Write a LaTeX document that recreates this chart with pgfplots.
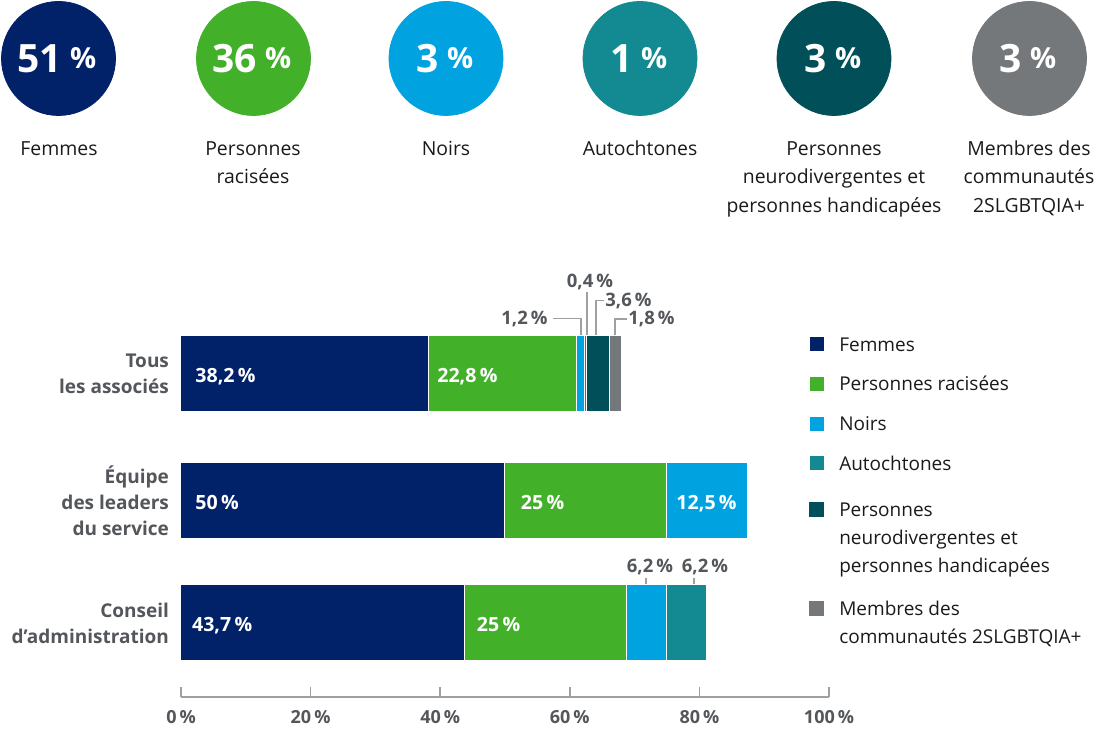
\documentclass[border=0pt]{standalone}
\usepackage{fontspec}
\setmainfont{Open Sans}
\usepackage{pgfplots}
\pgfplotsset{compat=1.18}

\definecolor{cNavy}{HTML}{012169}
\definecolor{cGreen}{HTML}{43B02A}
\definecolor{cBlue}{HTML}{00A3E0}
\definecolor{cTeal}{HTML}{138A92}
\definecolor{cDark}{HTML}{004F59}
\definecolor{cGray}{HTML}{75787B}
\definecolor{cText}{HTML}{53565A}
\definecolor{cLine}{HTML}{A0A0A0}
\definecolor{cBlack}{HTML}{1A1A1A}

\newcommand{\fs}[2]{\fontsize{#1}{#2}\selectfont}

\tikzset{
    lab/.style={align=center, anchor=north, inner sep=0pt, text=cBlack,
        font=\fs{9.7}{14.25}},
    inl/.style={anchor=base west, text=white, font=\bfseries\fs{9.8}{12}, inner sep=0pt},
    ann/.style={text=cText, font=\bfseries\fs{9.25}{12}, inner sep=0pt},
    lead/.style={cLine, line width=0.7pt},
}

\begin{document}
\begin{tikzpicture}
\path[use as bounding box] (0,0) rectangle (550pt,365.5pt);

% ---- top row: circles (coordinates in px, y downwards as negative)
\begin{axis}[
    name=bg, at={(0,0)}, anchor=south west,
    scale only axis, width=550pt, height=365.5pt,
    xmin=0, xmax=1100, ymin=-731, ymax=0,
    hide axis, clip=false,
]
\addplot[scatter, only marks, mark=*, mark size=28.5pt,
    point meta=explicit symbolic,
    scatter/classes={
        a={mark=*, draw=cNavy, fill=cNavy},
        b={mark=*, draw=cGreen, fill=cGreen},
        c={mark=*, draw=cBlue, fill=cBlue},
        d={mark=*, draw=cTeal, fill=cTeal},
        e={mark=*, draw=cDark, fill=cDark},
        f={mark=*, draw=cGray, fill=cGray}}]
table[meta=c] {
x      y    c
58.5   -58.5 a
253.5  -58.5 b
446    -58.5 c
640    -58.5 d
834    -58.5 e
1029.5 -58.5 f
};
\addplot[draw=none, mark=none, point meta=explicit symbolic,
    nodes near coords={{\fs{19.5}{22}\pgfplotspointmeta}\hspace{4pt}\raisebox{2pt}{\fs{14.5}{16}\%}},
    every node near coord/.append style={anchor=center, text=white,
        font=\bfseries, inner sep=0pt}]
table[meta=v] {
x      y   v
57     -59 51
252    -59 36
445    -59 3
639    -59 1
833    -59 3
1028   -59 3
};
\node[lab] at (axis cs:59,-135) {\strut Femmes};
\node[lab] at (axis cs:253,-135) {\strut Personnes\\racisées};
\node[lab] at (axis cs:446,-135) {\strut Noirs};
\node[lab] at (axis cs:640,-135) {\strut Autochtones};
\node[lab] at (axis cs:834,-135) {\strut Personnes\\neurodivergentes et\\personnes handicapées};
\node[lab] at (axis cs:1029,-135) {\strut Membres des\\communautés\\2SLGBTQIA+};
\end{axis}

% ---- stacked bars
\begin{axis}[
    at={(90.5pt,17pt)}, anchor=south west,
    scale only axis, width=324pt, height=223.5pt,
    xmin=0, xmax=100, ymin=-697, ymax=-250,
    xbar stacked, bar width=38pt,
    axis x line*=bottom, axis y line*=left,
    y axis line style={draw=none},
    ytick style={draw=none},
    x axis line style={cLine, line width=0.8pt},
    xtick style={cLine, line width=0.8pt},
    xtick align=inside, major tick length=5pt,
    xtick={0,20,40,60,80,100},
    xticklabels={0\,\%,20\,\%,40\,\%,60\,\%,80\,\%,100\,\%},
    xticklabel style={font=\bfseries\fs{9}{11}, text=cText, yshift=-3pt},
    ytick={-374,-501,-623},
    yticklabels={{Tous\\les associés},{Équipe\\des leaders\\du service},{Conseil\\d’administration}},
    yticklabel style={align=right, font=\bfseries\fs{9.5}{13}, text=cText, xshift=-2.5pt},
    clip=false,
    legend image code/.code={\fill[#1, draw=none] (0pt,0pt) rectangle (7pt,7pt);},
    legend style={at={(0.969,0.818)}, anchor=north west, draw=none, fill=none,
        inner sep=0pt, column sep=7.5pt, row sep=8.5pt,
        cells={anchor=base west, align=left},
        nodes={inner sep=0pt, font=\fs{9.5}{14}, text=cBlack}},
    after end axis/.code={
        % labels inside the bars, drawn on top of them
        \node[inl] at (axis cs:2.16,-383) {38,2\,\%};
        \node[inl] at (axis cs:39.5,-383) {22,8\,\%};
        \node[inl] at (axis cs:2.16,-510) {50\,\%};
        \node[inl] at (axis cs:52.4,-510) {25\,\%};
        \node[inl] at (axis cs:76.4,-510) {12,5\,\%};
        \node[inl] at (axis cs:1.65,-632) {43,7\,\%};
        \node[inl] at (axis cs:45.6,-632) {25\,\%};
    },
]
\addplot[fill=cNavy, draw=white, line width=0.5pt]
    coordinates {(38.2,-374) (50,-501) (43.7,-623)};
\addlegendentry{\strut Femmes}
\addplot[fill=cGreen, draw=white, line width=0.5pt]
    coordinates {(22.8,-374) (25,-501) (25,-623)};
\addlegendentry{\strut Personnes racisées}
\addplot[fill=cBlue, draw=white, line width=0.5pt]
    coordinates {(1.2,-374) (12.5,-501) (6.2,-623)};
\addlegendentry{\strut Noirs}
\addplot[fill=cTeal, draw=white, line width=0.5pt]
    coordinates {(0.4,-374) (0,-501) (6.2,-623)};
\addlegendentry{\strut Autochtones}
\addplot[fill=cDark, draw=white, line width=0.5pt,
    legend image code/.code={\fill[cDark] (0pt,28pt) rectangle (7pt,35pt);}]
    coordinates {(3.6,-374) (0,-501) (0,-623)};
\addlegendentry{\rule{0pt}{13.3pt}Personnes\\neurodivergentes et\\personnes handicapées\strut}
\addplot[fill=cGray, draw=white, line width=0.5pt,
    legend image code/.code={\fill[cGray] (0pt,14pt) rectangle (7pt,21pt);}]
    coordinates {(1.8,-374) (0,-501) (0,-623)};
\addlegendentry{\rule{0pt}{11.3pt}Membres des\\communautés 2SLGBTQIA+\strut}

% call-outs for the small segments
\draw[lead] (axis cs:57.41,-318.7) -- (axis cs:61.73,-318.7) -- (axis cs:61.73,-336);
\node[ann, anchor=base east] at (axis cs:56.64,-325) {1,2\,\%};
\draw[lead] (axis cs:62.65,-292) -- (axis cs:62.65,-336);
\node[ann, anchor=base] at (axis cs:63.12,-287.3) {0,4\,\%};
\draw[lead] (axis cs:65.28,-300.5) -- (axis cs:64.04,-300.5) -- (axis cs:64.04,-336);
\node[ann, anchor=base west] at (axis cs:65.43,-306.7) {3,6\,\%};
\draw[lead] (axis cs:68.83,-319) -- (axis cs:66.98,-319) -- (axis cs:66.98,-336);
\node[ann, anchor=base west] at (axis cs:68.98,-325) {1,8\,\%};
\draw[lead] (axis cs:71.76,-578) -- (axis cs:71.76,-585);
\draw[lead] (axis cs:79.17,-578) -- (axis cs:79.17,-585);
\node[ann, anchor=base] at (axis cs:72.38,-572.7) {6,2\,\%};
\node[ann, anchor=base] at (axis cs:80.86,-572.7) {6,2\,\%};
\end{axis}
\end{tikzpicture}
\end{document}
